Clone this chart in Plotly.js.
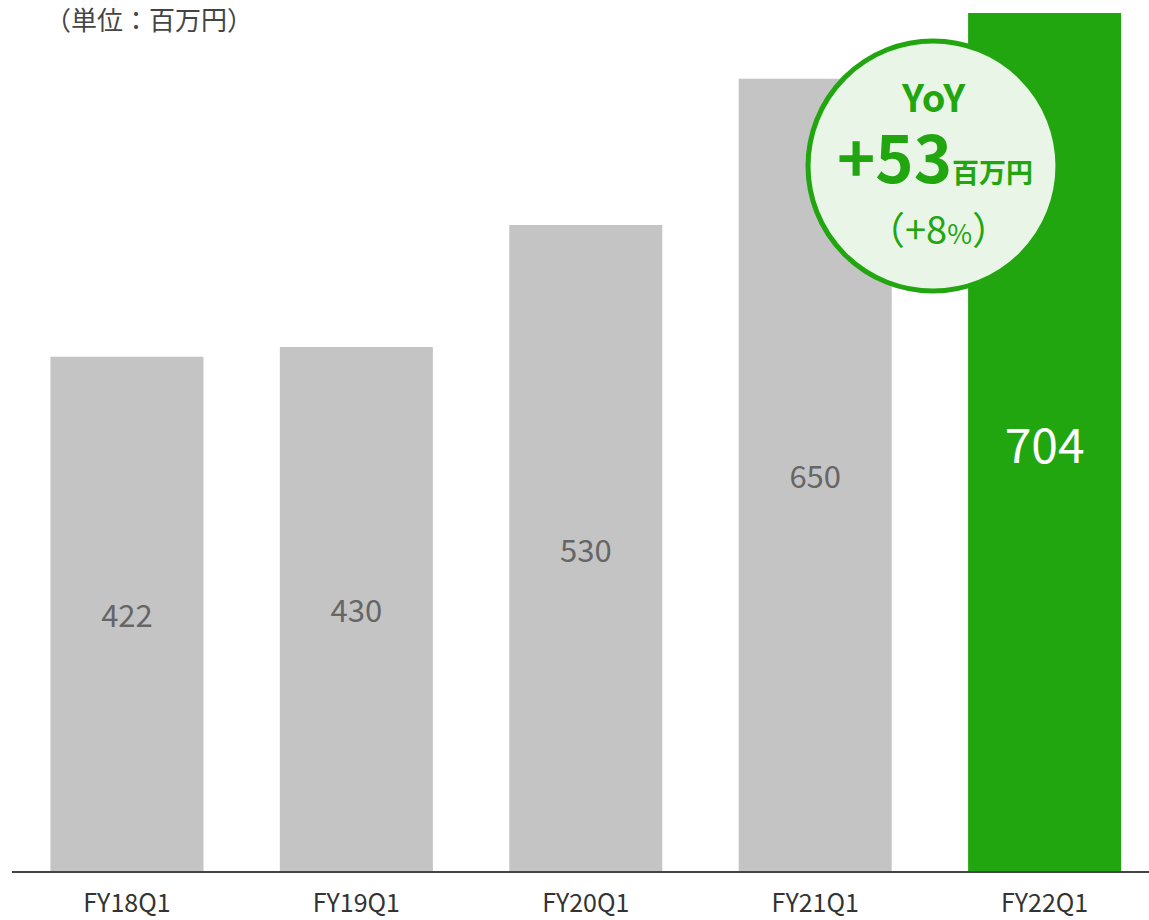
<!DOCTYPE html>
<html>
<head>
<meta charset="utf-8">
<script src="https://cdn.plot.ly/plotly-3.0.1.min.js"></script>
<style>
html,body{margin:0;padding:0;background:#fff;}
#chart{width:1149px;height:920px;}
</style>
</head>
<body>
<div id="chart"></div>
<script>
const categories = ["FY18Q1", "FY19Q1", "FY20Q1", "FY21Q1", "FY22Q1"];
const values = [422, 430, 530, 650, 704];
const unitLabel = "（単位：百万円）";
const yoyTitle = "YoY";
const yoyAmount = "+53";
const yoyUnit = "百万円";
const yoyPct = "8";

const FONT = '"Noto Sans CJK JP", "Noto Sans", sans-serif';
const GRAY = '#c4c4c4';
const GREEN = '#22a60f';

const barColors = values.map((v, i) => i === values.length - 1 ? GREEN : GRAY);
const textColors = values.map((v, i) => i === values.length - 1 ? '#ffffff' : '#666666');
const textSizes = values.map((v, i) => i === values.length - 1 ? 48 : 31);

const trace = {
  type: 'bar',
  x: categories.map((c, i) => i),
  y: values,
  marker: {color: barColors, line: {width: 0}},
  text: values.map(String),
  textposition: 'inside',
  insidetextanchor: 'middle',
  textangle: 0,
  insidetextfont: {family: FONT, color: textColors, size: textSizes},
  hoverinfo: 'none',
  width: 0.667
};

const layout = {
  width: 1149,
  height: 920,
  margin: {l: 12, r: 0, t: 10, b: 49},
  paper_bgcolor: '#ffffff',
  plot_bgcolor: '#ffffff',
  showlegend: false,
  font: {family: FONT},
  xaxis: {
    range: [-0.501, 4.455],
    tickmode: 'array',
    tickvals: categories.map((c, i) => i),
    ticktext: categories,
    showgrid: false,
    zeroline: false,
    showline: true,
    linecolor: '#444444',
    linewidth: 2,
    ticks: '',
    ticklabelstandoff: 9,
    tickfont: {family: FONT, size: 25, color: '#333333'},
    fixedrange: true
  },
  yaxis: {
    range: [0, 706.5],
    visible: false,
    showgrid: false,
    zeroline: false,
    fixedrange: true
  },
  shapes: [{
    type: 'circle',
    xref: 'paper', yref: 'paper',
    x0: 0.7001, x1: 0.9199,
    y0: 0.6736, y1: 0.9640,
    fillcolor: '#e9f6e7',
    line: {color: GREEN, width: 5},
    layer: 'above'
  }],
  annotations: [
    {
      text: unitLabel,
      xref: 'paper', yref: 'paper',
      x: (43 - 12) / 1137, y: (871 - 18) / 861,
      xanchor: 'left', yanchor: 'middle',
      showarrow: false,
      font: {family: FONT, size: 26, color: '#444444'}
    },
    {
      text: '<b>' + yoyTitle + '</b>',
      xref: 'paper', yref: 'paper',
      x: (933 - 12) / 1137, y: (871 - 96) / 861,
      xanchor: 'center', yanchor: 'middle',
      showarrow: false,
      font: {family: FONT, size: 38, color: GREEN}
    },
    {
      text: '<b>' + yoyAmount + '<span style="font-size:27px">' + yoyUnit + '</span></b>',
      xref: 'paper', yref: 'paper',
      x: (935 - 12) / 1137, y: (871 - 155) / 861,
      xanchor: 'center', yanchor: 'middle',
      showarrow: false,
      font: {family: FONT, size: 65, color: GREEN}
    },
    {
      text: '（+' + yoyPct + '<span style="font-size:27px">%</span>）',
      xref: 'paper', yref: 'paper',
      x: (939 - 12) / 1137, y: (871 - 227) / 861,
      xanchor: 'center', yanchor: 'middle',
      showarrow: false,
      font: {family: FONT, size: 38, color: GREEN}
    }
  ]
};

Plotly.newPlot('chart', [trace], layout, {staticPlot: true, displayModeBar: false});
</script>
</body>
</html>
